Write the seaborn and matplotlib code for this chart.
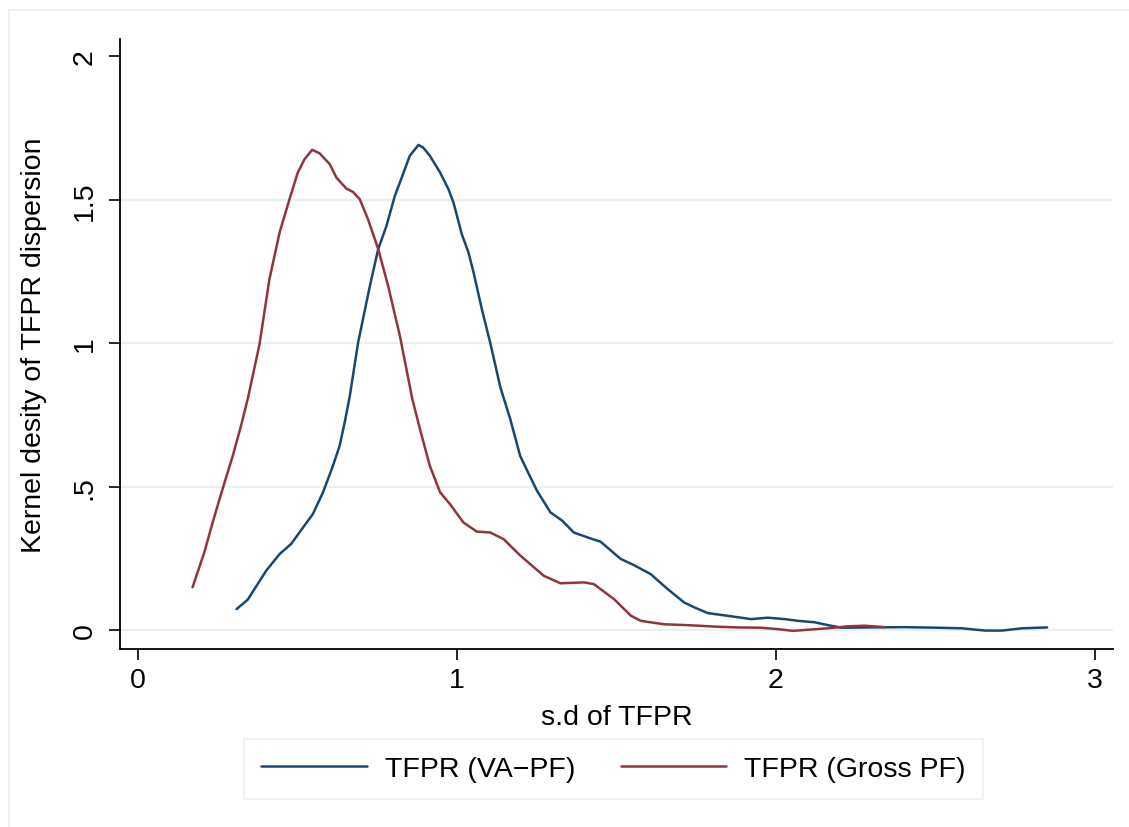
import numpy as np
import pandas as pd
import seaborn as sns
import matplotlib
matplotlib.use("Agg")
import matplotlib.pyplot as plt
from matplotlib.patches import Rectangle

# Kernel density of the s.d. of TFPR, value-added production function
va_x = [0.309, 0.344, 0.402, 0.444, 0.480, 0.506, 0.548, 0.580, 0.611, 0.632,
        0.648, 0.664, 0.690, 0.727, 0.753, 0.779, 0.805, 0.821, 0.852, 0.879,
        0.894, 0.915, 0.947, 0.973, 0.989, 1.015, 1.036, 1.052, 1.078, 1.104,
        1.136, 1.167, 1.198, 1.225, 1.251, 1.293, 1.330, 1.366, 1.419, 1.450,
        1.513, 1.555, 1.607, 1.660, 1.712, 1.744, 1.786, 1.859, 1.922, 1.974,
        2.027, 2.069, 2.121, 2.163, 2.205, 2.289, 2.404, 2.509, 2.583, 2.656,
        2.708, 2.771, 2.850]
va_y = [0.073, 0.106, 0.207, 0.265, 0.300, 0.340, 0.404, 0.480, 0.572, 0.642,
        0.724, 0.816, 1.002, 1.200, 1.328, 1.409, 1.513, 1.560, 1.653, 1.691,
        1.682, 1.653, 1.595, 1.537, 1.490, 1.380, 1.316, 1.246, 1.118, 1.002,
        0.846, 0.735, 0.607, 0.544, 0.485, 0.410, 0.381, 0.340, 0.319, 0.308,
        0.248, 0.226, 0.195, 0.143, 0.096, 0.079, 0.059, 0.048, 0.038, 0.043,
        0.038, 0.032, 0.027, 0.017, 0.008, 0.009, 0.010, 0.008, 0.006, -0.002,
        -0.002, 0.006, 0.009]

# Kernel density of the s.d. of TFPR, gross-output production function
gross_x = [0.171, 0.208, 0.234, 0.265, 0.297, 0.323, 0.345, 0.381, 0.412, 0.444,
           0.475, 0.501, 0.522, 0.546, 0.569, 0.601, 0.622, 0.653, 0.674, 0.695,
           0.721, 0.753, 0.784, 0.821, 0.860, 0.884, 0.915, 0.947, 0.978, 1.020,
           1.062, 1.104, 1.146, 1.199, 1.272, 1.324, 1.398, 1.429, 1.492, 1.545,
           1.576, 1.649, 1.723, 1.807, 1.880, 1.953, 2.006, 2.053, 2.100, 2.163,
           2.226, 2.278, 2.341]
gross_y = [0.149, 0.271, 0.375, 0.491, 0.607, 0.712, 0.810, 0.997, 1.223, 1.386,
           1.502, 1.595, 1.641, 1.674, 1.662, 1.624, 1.577, 1.539, 1.527, 1.502,
           1.432, 1.328, 1.200, 1.025, 0.805, 0.700, 0.572, 0.480, 0.439, 0.375,
           0.343, 0.340, 0.317, 0.259, 0.189, 0.163, 0.166, 0.160, 0.108, 0.050,
           0.032, 0.020, 0.017, 0.012, 0.009, 0.008, 0.003, -0.003, 0.001, 0.006,
           0.013, 0.015, 0.010]

series_labels = ["TFPR (VA\u2212PF)", "TFPR (Gross PF)"]
series_colors = ["#1a476f", "#90353b"]

x_ticks = [0, 1, 2, 3]
x_tick_labels = ["0", "1", "2", "3"]
y_ticks = [0, 0.5, 1, 1.5, 2]
y_tick_labels = ["0", ".5", "1", "1.5", "2"]
y_grid = [0, 0.5, 1, 1.5]

df = pd.concat([
    pd.DataFrame({"sd": va_x, "density": va_y, "series": series_labels[0]}),
    pd.DataFrame({"sd": gross_x, "density": gross_y, "series": series_labels[1]}),
], ignore_index=True)

sns.set_theme(style="white")
plt.rcParams["font.family"] = ["Liberation Sans", "DejaVu Sans"]

W, H = 1129, 828
fig = plt.figure(figsize=(W / 100, H / 100), dpi=100)
fig.patch.set_facecolor("white")

# outer graph-region frame
frame_col = "#e8f0f2"
fig.patches.append(Rectangle((9 / W, -0.1), 1.2, 1.1 - 11 / H,
                             transform=fig.transFigure, fill=False,
                             edgecolor=frame_col, linewidth=1.2, zorder=0))

ax = fig.add_axes([120 / W, 1 - 650 / H, (1113 - 120) / W, (650 - 40) / H])
ax.set_facecolor("white")

for g in y_grid:
    ax.axhline(g, color=frame_col, linewidth=1.6, zorder=1)

sns.lineplot(data=df, x="sd", y="density", hue="series",
             hue_order=series_labels, palette=series_colors,
             estimator=None, sort=False, linewidth=1.8, ax=ax, zorder=3)
for ln in ax.lines:
    ln.set_solid_joinstyle("round")
    ln.set_solid_capstyle("round")

ax.set_xlim(-18 / 319, (1113 - 138) / 319)
ax.set_ylim(-19 / 287.2, (631.7 - 40) / 287.2)

ax.set_xticks(x_ticks)
ax.set_xticklabels(x_tick_labels)
ax.set_yticks(y_ticks)
ax.set_yticklabels(y_tick_labels, rotation=90, va="center")

ax.tick_params(axis="both", which="major", direction="out", length=8,
               width=1.2, color="black", labelsize=20.5, labelcolor="black",
               left=True, bottom=True)
ax.tick_params(axis="x", pad=5)
ax.tick_params(axis="y", pad=8)

for side in ["top", "right"]:
    ax.spines[side].set_visible(False)
for side in ["left", "bottom"]:
    ax.spines[side].set_color("black")
    ax.spines[side].set_linewidth(1.3)

ax.set_xlabel("s.d of TFPR", fontsize=20.5, color="black", labelpad=8)
ax.set_ylabel("Kernel desity of TFPR dispersion", fontsize=20.5,
              color="black", labelpad=18)

handles, labels = ax.get_legend_handles_labels()
ax.get_legend().remove()
for h in handles:
    h.set_linewidth(1.8)
leg = fig.legend(handles, labels, loc="center",
                 bbox_to_anchor=(613.5 / W, 1 - 770 / H), ncol=2,
                 fontsize=20.5, frameon=True, fancybox=False,
                 handlelength=3.7, handletextpad=0.63, columnspacing=1.6,
                 borderpad=0.6, borderaxespad=0)
leg.get_frame().set_edgecolor(frame_col)
leg.get_frame().set_linewidth(1.6)
for t in leg.get_texts():
    t.set_color("black")

fig.savefig("out.png", dpi=100, facecolor="white")
